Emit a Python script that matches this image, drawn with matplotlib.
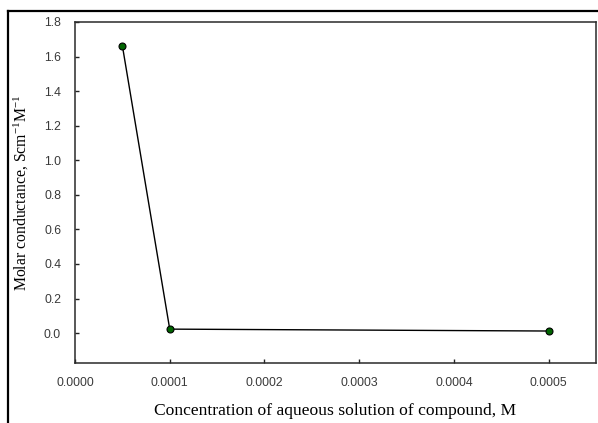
import matplotlib
matplotlib.use('Agg')
import matplotlib.pyplot as plt
from matplotlib.lines import Line2D

# Data
conc = [0.00005, 0.0001, 0.0005]
molar_cond = [1.663, 0.023, 0.012]
xticks = [0.0, 0.0001, 0.0002, 0.0003, 0.0004, 0.0005]
yticks = [0.0, 0.2, 0.4, 0.6, 0.8, 1.0, 1.2, 1.4, 1.6, 1.8]

plt.rcParams['mathtext.fontset'] = 'custom'
plt.rcParams['mathtext.rm'] = 'Liberation Serif'
plt.rcParams['mathtext.it'] = 'Liberation Serif:italic'

fig = plt.figure(figsize=(5.98, 4.23), dpi=100)
ax = fig.add_axes([75/598, 1-363/423, (596-75)/598, (363-22)/423])

ax.plot(conc, molar_cond, '-', color='k', lw=1.0, zorder=2)
ax.plot(conc, molar_cond, 'o', ms=5, mfc='#006400', mec='k', mew=0.8, zorder=3)

ax.set_xlim(0, 0.00055)
ax.set_ylim(-0.173, 1.8)
ax.set_xticks(xticks)
ax.set_xticklabels([f'{v:.4f}' for v in xticks])
ax.set_yticks(yticks)
ax.set_yticklabels([f'{v:.1f}' for v in yticks])

ax.tick_params(direction='in', length=3, width=1, color='#222222',
               labelsize=8.8, labelcolor='#3a3a3a', pad=10)
for lab in ax.get_xticklabels() + ax.get_yticklabels():
    lab.set_family('Liberation Sans')
for sp in ax.spines.values():
    sp.set_linewidth(1.1)
    sp.set_color('#2a2a2a')

ax.set_xlabel('Concentration of aqueous solution of compound, M',
              family='Liberation Serif', fontsize=12.6, labelpad=10)
ax.set_ylabel(r'Molar conductance, Scm$^{-1}$M$^{-1}$',
              family='Liberation Serif', fontsize=11.3, labelpad=9)

# outer frame lines of the original picture
fig.add_artist(Line2D([8/598, 8/598], [0, 1-11/423], transform=fig.transFigure,
                      color='k', lw=1.6))
fig.add_artist(Line2D([8/598, 1], [1-11/423, 1-11/423], transform=fig.transFigure,
                      color='k', lw=1.6))

fig.savefig('out.png', dpi=100)
